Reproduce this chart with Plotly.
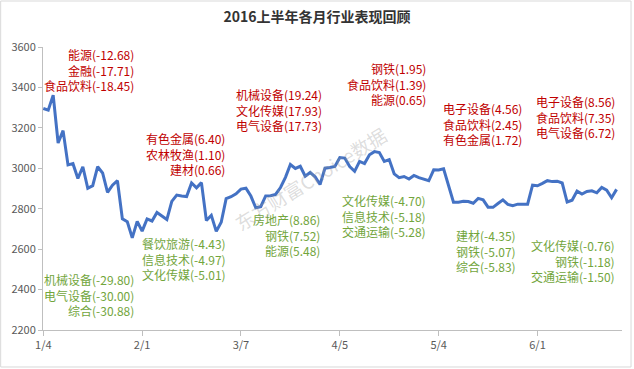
import plotly.graph_objects as go

# ---- data ----
dates = (
    ["1/4", "1/5", "1/6", "1/7", "1/8", "1/11", "1/12", "1/13", "1/14", "1/15",
     "1/18", "1/19", "1/20", "1/21", "1/22", "1/25", "1/26", "1/27", "1/28", "1/29"]
    + ["2/1", "2/2", "2/3", "2/4", "2/5", "2/15", "2/16", "2/17", "2/18", "2/19",
       "2/22", "2/23", "2/24", "2/25", "2/26", "2/29"]
    + ["3/1", "3/2", "3/3", "3/4", "3/7", "3/8", "3/9", "3/10", "3/11", "3/14", "3/15",
       "3/16", "3/17", "3/18", "3/21", "3/22", "3/23", "3/24", "3/25", "3/28", "3/29",
       "3/30", "3/31"]
    + ["4/1", "4/5", "4/6", "4/7", "4/8", "4/11", "4/12", "4/13", "4/14", "4/15",
       "4/18", "4/19", "4/20", "4/21", "4/22", "4/25", "4/26", "4/27", "4/28", "4/29"]
    + ["5/3", "5/4", "5/5", "5/6", "5/9", "5/10", "5/11", "5/12", "5/13", "5/16",
       "5/17", "5/18", "5/19", "5/20", "5/23", "5/24", "5/25", "5/26", "5/27", "5/30", "5/31"]
    + ["6/1", "6/2", "6/3", "6/6", "6/7", "6/8", "6/13", "6/14", "6/15", "6/16",
       "6/17", "6/20", "6/21", "6/22", "6/23", "6/24", "6/27"]
)

index_values = (
    [3296.26, 3287.71, 3361.84, 3125.00, 3186.41, 3016.70, 3022.86, 2949.60, 3007.65, 2900.97,
     2913.84, 3007.74, 2976.69, 2880.48, 2916.56, 2938.51, 2749.79, 2735.56, 2655.66, 2737.60]
    + [2688.85, 2749.57, 2739.25, 2781.02, 2763.49, 2746.20, 2836.57, 2867.34, 2862.89, 2860.02,
       2927.18, 2903.33, 2928.90, 2741.25, 2767.21, 2687.98]
    + [2733.17, 2849.68, 2859.50, 2874.15, 2897.34, 2901.39, 2862.56, 2804.73, 2810.31, 2863.62,
       2864.37, 2870.43, 2904.83, 2955.15, 3018.80, 2999.36, 3009.96, 2960.97, 2979.43, 2957.82,
       2919.83, 3000.65, 3003.92]
    + [3009.53, 3053.07, 3050.59, 3008.42, 2984.96, 3033.96, 3023.65, 3066.64, 3082.36, 3078.12,
       3033.66, 3042.82, 2972.58, 2953.67, 2959.24, 2946.67, 2964.70, 2953.51, 2945.59, 2938.32]
    + [2992.64, 2991.27, 2997.84, 2913.25, 2832.11, 2832.59, 2837.04, 2835.86, 2827.11, 2850.86,
       2843.68, 2807.51, 2806.91, 2825.48, 2843.65, 2821.67, 2815.09, 2822.44, 2821.05, 2822.45,
       2916.62]
    + [2913.51, 2925.23, 2938.68, 2934.10, 2936.04, 2927.16, 2833.07, 2842.19, 2887.21, 2872.82,
       2885.11, 2888.81, 2878.56, 2905.55, 2891.96, 2854.29, 2895.70]
)

x_ticks = ["1/4", "2/1", "3/7", "4/5", "5/4", "6/1"]
y_ticks = [2200, 2400, 2600, 2800, 3000, 3200, 3400, 3600]

# monthly leaders (red) and laggards (green)
top_groups = [
    ["能源(-12.68)", "金融(-17.71)", "食品饮料(-18.45)"],
    ["有色金属(6.40)", "农林牧渔(1.10)", "建材(0.66)"],
    ["机械设备(19.24)", "文化传媒(17.93)", "电气设备(17.73)"],
    ["钢铁(1.95)", "食品饮料(1.39)", "能源(0.65)"],
    ["电子设备(4.56)", "食品饮料(2.45)", "有色金属(1.72)"],
    ["电子设备(8.56)", "食品饮料(7.35)", "电气设备(6.72)"],
]
bottom_groups = [
    ["机械设备(-29.80)", "电气设备(-30.00)", "综合(-30.88)"],
    ["餐饮旅游(-4.43)", "信息技术(-4.97)", "文化传媒(-5.01)"],
    ["房地产(8.86)", "钢铁(7.52)", "能源(5.48)"],
    ["文化传媒(-4.70)", "信息技术(-5.18)", "交通运输(-5.28)"],
    ["建材(-4.35)", "钢铁(-5.07)", "综合(-5.83)"],
    ["文化传媒(-0.76)", "钢铁(-1.18)", "交通运输(-1.50)"],
]

# ---- layout constants ----
FONT = "Microsoft YaHei, Noto Sans CJK SC, sans-serif"
RED = "#C00000"
GREEN = "#72A53C"
# label anchor positions (category index of right edge, y value of middle line)
top_pos = [(18.8, 3486), (37.2, 3071), (56.8, 3288), (77.9, 3417), (97.3, 3219), (116.1, 3254)]
bottom_pos = [(18.8, 2373), (37.4, 2551), (56.4, 2670), (77.9, 2764), (96.1, 2591), (116.1, 2541)]

fig = go.Figure()
fig.add_trace(go.Scatter(
    x=dates, y=index_values, mode="lines",
    line=dict(color="#4472C4", width=3),
    hoverinfo="x+y", showlegend=False,
))

annotations = []
for lines, (xi, yv) in zip(top_groups, top_pos):
    annotations.append(dict(
        x=xi, y=yv, xref="x", yref="y", text="<br>".join(lines), showarrow=False,
        xanchor="right", yanchor="middle", align="right",
        font=dict(family=FONT, size=12, color=RED),
    ))
for lines, (xi, yv) in zip(bottom_groups, bottom_pos):
    annotations.append(dict(
        x=xi, y=yv, xref="x", yref="y", text="<br>".join(lines), showarrow=False,
        xanchor="right", yanchor="middle", align="right",
        font=dict(family=FONT, size=12, color=GREEN),
    ))
# watermark
annotations.append(dict(
    x=0.461, y=0.537, xref="paper", yref="paper", text="东方财富Choice数据",
    showarrow=False, textangle=-32,
    font=dict(family=FONT, size=19, color="rgba(150,150,150,0.33)"),
))

fig.update_layout(
    width=634, height=369,
    margin=dict(l=43, r=12, t=47, b=39),
    paper_bgcolor="white", plot_bgcolor="white",
    title=dict(text="<b>2016上半年各月行业表现回顾</b>", x=0.5, xanchor="center",
               y=0.953, yanchor="middle",
               font=dict(family=FONT, size=14, color="#333333")),
    font=dict(family=FONT),
    annotations=annotations,
    shapes=[dict(type="rect", xref="paper", yref="paper",
                 x0=-0.0731, x1=1.0156, y0=-0.1307, y1=1.1625,
                 line=dict(color="#D9D9D9", width=1), fillcolor="rgba(0,0,0,0)")],
    xaxis=dict(
        type="category", range=[-0.06, 117.1], automargin=False,
        tickmode="array", tickvals=x_ticks, ticktext=x_ticks,
        showgrid=False, zeroline=False,
        showline=True, linecolor="#BFBFBF", linewidth=1,
        ticks="outside", ticklen=5, tickcolor="#BFBFBF",
        tickfont=dict(family=FONT, size=11, color="#595959"),
    ),
    yaxis=dict(
        range=[2200, 3600], tickvals=y_ticks, automargin=False,
        showgrid=False, zeroline=False,
        showline=True, linecolor="#BFBFBF", linewidth=1,
        ticks="outside", ticklen=4, tickcolor="#BFBFBF",
        tickfont=dict(family=FONT, size=11, color="#595959"),
    ),
)

fig.write_html("out.html", config={"displayModeBar": False},
               post_script="document.body.style.margin='0';")
